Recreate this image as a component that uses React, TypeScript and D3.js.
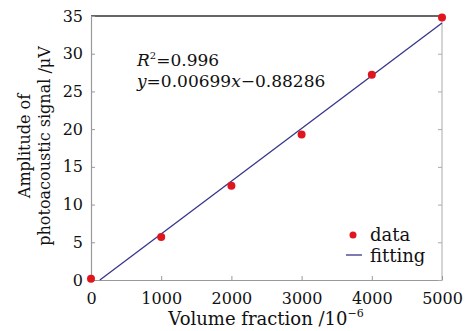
import React from "react";
import * as d3 from "d3";

// measured volume fractions (10^-6) and signal amplitudes (uV)
const volumes = [0, 1000, 2000, 3000, 4000, 5000];
const amplitudes = [0.15, 5.7, 12.5, 19.3, 27.2, 34.8];
const xTicks = [0, 1000, 2000, 3000, 4000, 5000];
const yTicks = [0, 5, 10, 15, 20, 25, 30, 35];
// linear fit
const slope = 0.00699;
const intercept = -0.88286;
const fitRange = [126.3, 5000];

export default function App() {
    const ref = React.useRef<SVGSVGElement>(null);

    React.useEffect(() => {
        drawChart();
    }, []);

    function drawChart() {
        const width = 472;
        const height = 331;
        const margin = { top: 16, right: 30, bottom: 51, left: 91 };
        const font = "DejaVu Serif, serif";

        const svg = d3.select(ref.current);
        svg.selectAll("*").remove();

        const x = d3
            .scaleLinear()
            .domain([0, 5000])
            .range([margin.left, width - margin.right]);
        const y = d3
            .scaleLinear()
            .domain([0, 35])
            .range([height - margin.bottom, margin.top]);

        const x0 = margin.left;
        const x1 = width - margin.right;
        const y0 = height - margin.bottom;
        const y1 = margin.top;

        // frame
        svg.append("line")
            .attr("x1", x0).attr("x2", x1).attr("y1", y1).attr("y2", y1)
            .attr("stroke", "#333").attr("stroke-width", 1.3);
        svg.append("line")
            .attr("x1", x1).attr("x2", x1).attr("y1", y1).attr("y2", y0)
            .attr("stroke", "#aaa").attr("stroke-width", 1);

        const xAxis = d3
            .axisBottom(x)
            .tickValues(xTicks)
            .tickSizeInner(-4)
            .tickSizeOuter(0)
            .tickPadding(12)
            .tickFormat((d) => String(d));
        const xg = svg.append("g")
            .attr("transform", `translate(0,${y0})`)
            .call(xAxis);
        xg.select(".domain").attr("stroke", "#999").attr("stroke-width", 1.2);
        xg.selectAll(".tick line").attr("stroke", "#999");
        xg.selectAll(".tick text")
            .attr("font-family", font).attr("font-size", 16).attr("fill", "#111")
            .attr("dy", "0.75em");

        const yAxis = d3
            .axisLeft(y)
            .tickValues(yTicks)
            .tickSizeInner(-4)
            .tickSizeOuter(0)
            .tickPadding(8)
            .tickFormat((d) => String(d));
        const yg = svg.append("g")
            .attr("transform", `translate(${x0},0)`)
            .call(yAxis);
        yg.select(".domain").attr("stroke", "#999").attr("stroke-width", 1.2);
        yg.selectAll(".tick line").attr("stroke", "#999");
        yg.selectAll(".tick text")
            .attr("font-family", font).attr("font-size", 16).attr("fill", "#111");

        // right side ticks
        const rg = svg.append("g")
            .attr("transform", `translate(${x1},0)`)
            .call(d3.axisRight(y).tickValues(yTicks).tickSizeInner(-4).tickSizeOuter(0).tickFormat(() => ""));
        rg.select(".domain").remove();
        rg.selectAll(".tick line").attr("stroke", "#aaa");

        // fitted line
        svg.append("path")
            .datum(fitRange)
            .attr("fill", "none")
            .attr("stroke", "#35358a")
            .attr("stroke-width", 1.3)
            .attr(
                "d",
                d3.line<number>()
                    .x((d) => x(d))
                    .y((d) => y(slope * d + intercept))
            );

        // data points
        svg.append("g")
            .selectAll("circle")
            .data(volumes)
            .join("circle")
            .attr("cx", (d) => x(d))
            .attr("cy", (d, i) => y(amplitudes[i]))
            .attr("r", 4)
            .attr("fill", "#e0161e");

        // equation text
        const t1 = svg.append("text")
            .attr("x", 137).attr("y", 66)
            .attr("font-family", font).attr("font-size", 17).attr("fill", "#111");
        t1.append("tspan").attr("font-style", "italic").text("R");
        t1.append("tspan").attr("font-size", 10).attr("dy", -7).text("2");
        t1.append("tspan").attr("dy", 7).text("=0.996");

        const t2 = svg.append("text")
            .attr("x", 137).attr("y", 87)
            .attr("font-family", font).attr("font-size", 17).attr("fill", "#111");
        t2.append("tspan").attr("font-style", "italic").text("y");
        t2.append("tspan").text("=0.00699");
        t2.append("tspan").attr("font-style", "italic").text("x");
        t2.append("tspan").text("\u22120.88286");

        // legend
        svg.append("circle")
            .attr("cx", 353).attr("cy", 235).attr("r", 3.5).attr("fill", "#e0161e");
        svg.append("text")
            .attr("x", 370).attr("y", 241)
            .attr("font-family", font).attr("font-size", 18).attr("fill", "#111")
            .text("data");
        svg.append("line")
            .attr("x1", 346).attr("x2", 362).attr("y1", 255).attr("y2", 255)
            .attr("stroke", "#35358a").attr("stroke-width", 1.3);
        svg.append("text")
            .attr("x", 370).attr("y", 262)
            .attr("font-family", font).attr("font-size", 18).attr("fill", "#111")
            .text("fitting");

        // axis titles
        const xt = svg.append("text")
            .attr("x", 266).attr("y", 325)
            .attr("text-anchor", "middle")
            .attr("font-family", font).attr("font-size", 18).attr("fill", "#111");
        xt.append("tspan").text("Volume fraction /10");
        xt.append("tspan").attr("font-size", 11).attr("dy", -8).text("\u22126");

        const cy = 146;
        svg.append("text")
            .attr("transform", `translate(30,${cy}) rotate(-90)`)
            .attr("text-anchor", "middle")
            .attr("font-family", font).attr("font-size", 16).attr("fill", "#111")
            .text("Amplitude of");
        svg.append("text")
            .attr("transform", `translate(50,${cy}) rotate(-90)`)
            .attr("text-anchor", "middle")
            .attr("font-family", font).attr("font-size", 16).attr("fill", "#111")
            .text("photoacoustic signal /\u03bcV");
    }

    return (
        <svg
            ref={ref}
            width={472}
            height={331}
            style={{ position: "absolute", left: 0, top: 0, background: "#fff" }}
        />
    );
}
